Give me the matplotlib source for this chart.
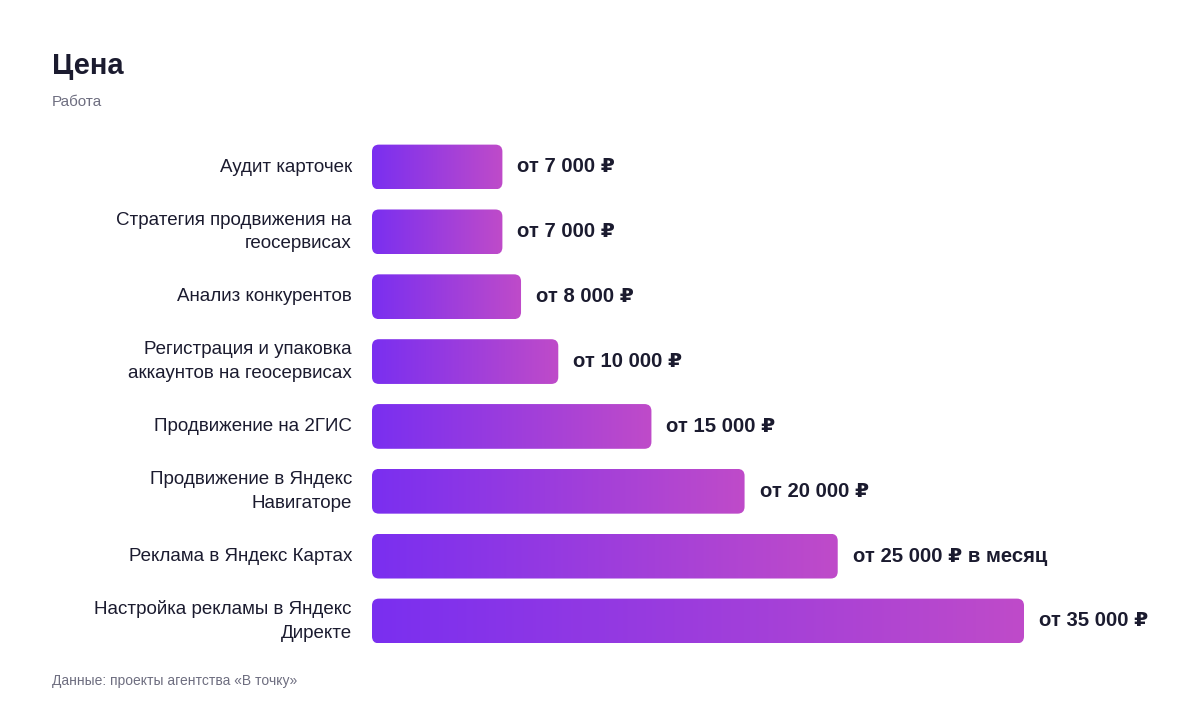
import matplotlib
matplotlib.use('Agg')
import matplotlib.pyplot as plt
import numpy as np
from matplotlib.patches import FancyBboxPatch
from matplotlib.colors import LinearSegmentedColormap

plt.rcParams['font.family'] = ['Liberation Sans', 'DejaVu Sans']

categories = ['Аудит карточек',
              'Стратегия продвижения на\nгеосервисах',
              'Анализ конкурентов',
              'Регистрация и упаковка\nаккаунтов на геосервисах',
              'Продвижение на 2ГИС',
              'Продвижение в Яндекс\nНавигаторе',
              'Реклама в Яндекс Картах',
              'Настройка рекламы в Яндекс\nДиректе']
values = [7000, 7000, 8000, 10000, 15000, 20000, 25000, 35000]
value_labels = ['от 7 000 ₽', 'от 7 000 ₽', 'от 8 000 ₽', 'от 10 000 ₽',
                'от 15 000 ₽', 'от 20 000 ₽', 'от 25 000 ₽ в месяц', 'от 35 000 ₽']

W, H = 1200, 712
dark = '#1b1b2f'
grey = '#6e6e80'
cmap = LinearSegmentedColormap.from_list('bar', ['#7a2ff0', '#bf4bc9'])

fig = plt.figure(figsize=(W / 100, H / 100), dpi=100)
fig.patch.set_facecolor('white')

# axes placed in pixel terms: x 0..35000 -> 372..1024 px, rows centered 167..621 px
step = (621 - 167) / 7
top = 167 - step / 2
bottom = 621 + step / 2
ax = fig.add_axes([372 / W, 1 - bottom / H, (1024 - 372) / W, (bottom - top) / H])
ax.set_xlim(0, max(values))
ax.set_ylim(len(values) - 0.5, -0.5)
ax.axis('off')

bars = ax.barh(range(len(values)), values, height=0.69, alpha=0)

# x/y units per pixel for rounding
x_per_px = max(values) / (1024 - 372)
y_per_px = 1 / step
radius_px = 7
grad = np.linspace(0, 1, 256).reshape(1, -1)

for i, rect in enumerate(bars.patches):
    x0, y0 = rect.get_x(), rect.get_y()
    w, h = rect.get_width(), rect.get_height()
    patch = FancyBboxPatch((x0, y0), w, h,
                           boxstyle=f'round,pad=0,rounding_size={radius_px * x_per_px}',
                           mutation_aspect=y_per_px / x_per_px,
                           facecolor='none', edgecolor='none')
    ax.add_patch(patch)
    im = ax.imshow(grad, cmap=cmap, aspect='auto', extent=(x0, x0 + w, y0 + h, y0),
                   interpolation='bicubic', zorder=2)
    im.set_clip_path(patch)
    ax.text(w + 15 * x_per_px, i, value_labels[i], va='center', ha='left',
            fontsize=14.6, fontweight='bold', color=dark)
    ax.text(-20 * x_per_px, i, categories[i], va='center', ha='right',
            fontsize=13.5, color=dark, linespacing=1.5)

ax.set_xlim(0, max(values))
ax.set_ylim(len(values) - 0.5, -0.5)

fig.text(52 / W, 1 - 66 / H, 'Цена', fontsize=21, fontweight='bold',
         color=dark, va='center', ha='left')
fig.text(52 / W, 1 - 102 / H, 'Работа', fontsize=11, color=grey,
         va='center', ha='left')
fig.text(52 / W, 1 - 681 / H, 'Данные: проекты агентства «В точку»', fontsize=10,
         color=grey, va='center', ha='left')

fig.savefig('out.png', dpi=100, facecolor='white')
